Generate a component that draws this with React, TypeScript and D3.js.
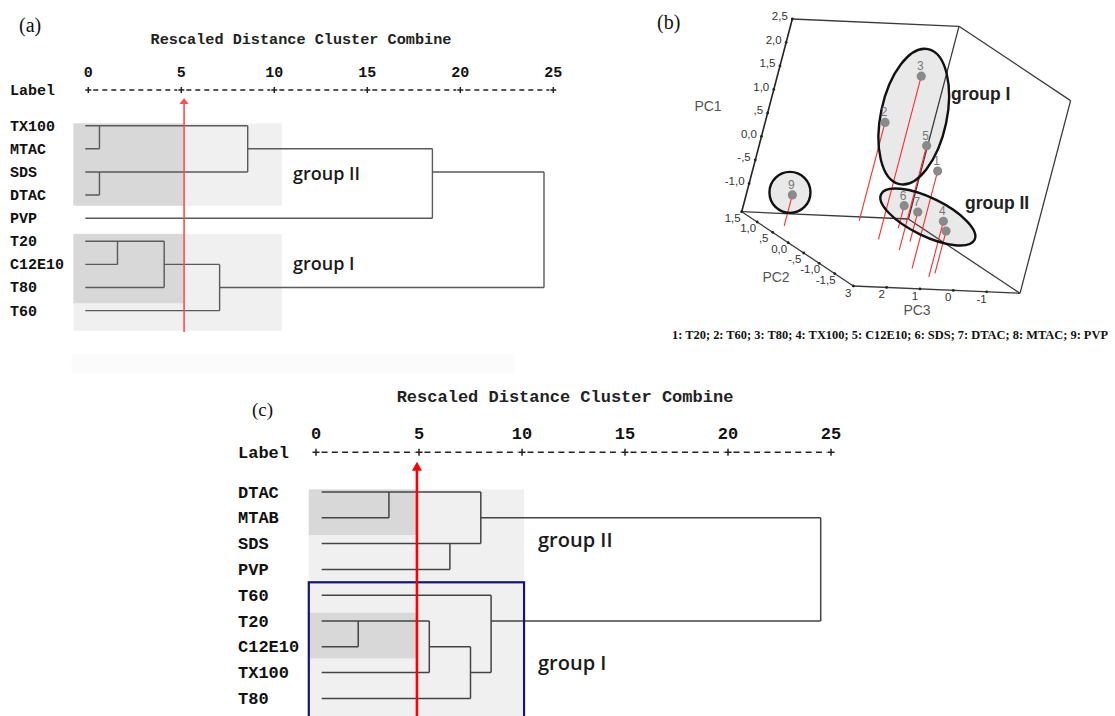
import React from 'react';
import * as d3 from 'd3';

// ---------- (a) hierarchical clustering of the surfactant set ----------
const labelsA = ['TX100', 'MTAC', 'SDS', 'DTAC', 'PVP', 'T20', 'C12E10', 'T80', 'T60'];
// agglomeration schedule: [cluster, cluster, rescaled distance]; leaves are 0..n-1, new clusters n, n+1, ...
const mergesA: [number, number, number][] = [
  [0, 1, 0.6],
  [2, 3, 0.6],
  [5, 6, 1.57],
  [11, 7, 4.08],
  [12, 8, 7.06],
  [9, 10, 8.57],
  [14, 4, 18.5],
  [15, 13, 24.5],
];
const cutA = 5.15;

// ---------- (c) second clustering ----------
const labelsC = ['DTAC', 'MTAB', 'SDS', 'PVP', 'T60', 'T20', 'C12E10', 'TX100', 'T80'];
const mergesC: [number, number, number][] = [
  [5, 6, 2.05],
  [0, 1, 3.54],
  [9, 7, 5.5],
  [2, 3, 6.5],
  [11, 8, 7.5],
  [10, 12, 8.0],
  [4, 13, 8.5],
  [14, 15, 24.5],
];
const cutC = 4.9;

const distTicks = [0, 5, 10, 15, 20, 25];

// highlighted blocks, in distance units (d) and row units (r)
type Band = { d0: number; d1: number | 'cut'; r0: number; r1: number; fill: string; stroke?: string };
const bandsA: Band[] = [
  { d0: -0.9, d1: 22.9, r0: 9.87, r1: 10.72, fill: '#fbfbfb' },
  { d0: -0.8, d1: 10.4, r0: -0.1, r1: 3.46, fill: '#f0f0f0' },
  { d0: -0.8, d1: 'cut', r0: -0.1, r1: 3.46, fill: '#d8d8d8' },
  { d0: -0.8, d1: 10.4, r0: 4.68, r1: 8.87, fill: '#f0f0f0' },
  { d0: -0.8, d1: 'cut', r0: 4.68, r1: 7.68, fill: '#d8d8d8' },
];
const bandsC: Band[] = [
  { d0: -0.35, d1: 10.1, r0: -0.1, r1: 3.5, fill: '#f0f0f0' },
  { d0: -0.35, d1: 'cut', r0: -0.1, r1: 1.67, fill: '#d8d8d8' },
  { d0: -0.35, d1: 10.1, r0: 3.5, r1: 9.6, fill: '#f0f0f0' },
  { d0: -0.35, d1: 'cut', r0: 4.68, r1: 6.45, fill: '#d8d8d8' },
];
const boxC: Band = { d0: -0.35, d1: 10.1, r0: 3.5, r1: 9.6, fill: 'none', stroke: '#14147a' };

// ---------- (b) PCA scores ----------
const pcIds = ['1', '2', '3', '4', '5', '6', '7', '8', '9'];
const pcNames = ['T20', 'T60', 'T80', 'TX100', 'C12E10', 'SDS', 'DTAC', 'MTAC', 'PVP'];
const pc1 = [0.47, 0.49, 1.87, -0.42, 0.62, -1.12, -0.97, -0.7, -0.94];
const pc2 = [-1.05, 1.3, 0.38, -1.45, -0.13, 1.0, 0.33, -1.26, 0.86];
const pc3 = [0.26, -0.34, -0.06, 0.13, -0.21, -1.23, -0.96, -0.23, 2.32];
// the number tag of point 8 sits under point 4 and is not printed
const pcTagShown = [true, true, true, true, true, true, true, false, true];
const pc1Ticks = [2.5, 2, 1.5, 1, 0.5, 0, -0.5, -1];
const pc1TickText = ['2,5', '2,0', '1,5', '1,0', ',5', '0,0', '-,5', '-1,0'];
const pc2Ticks = [1.5, 1, 0.5, 0, -0.5, -1, -1.5];
const pc2TickText = ['1,5', '1,0', ',5', '0,0', '-,5', '-1,0', '-1,5'];
const pc3Ticks = [3, 2, 1, 0, -1];
const pc3TickText = ['3', '2', '1', '0', '-1'];
const pcGroupMembers = [[0, 1, 2, 4], [3, 5, 6, 7], [8]];
const pcGroupNames = ['group I', 'group II', ''];

const MONO = "'Courier New', 'Liberation Mono', monospace";
const SERIF = "'Times New Roman', 'Liberation Serif', serif";
const SANS = "Arial, 'Liberation Sans', sans-serif";
const ROUND = "'Open Sans', sans-serif";

type DendroLayout = {
  x0: number; x1: number; rowTop: number; rowStep: number;
  axisY: number; tickTextY: number; labelX: number; font: number;
  titleX: number; titleY: number; titleFont: number;
  tag: { text: string; x: number; y: number; size: number };
  lineColor: string; lineWidth: number; leafInset: number;
  cutTop: number; cutBottom: number; cutColor: string; cutWidth: number;
  arrowW: number; arrowH: number; dash: string; plus: number;
  groupFont: number; groups: { text: string; x: number; y: number }[];
};

function DendroPanel({ labels, merges, cut, bands, box, L }: {
  labels: string[]; merges: [number, number, number][]; cut: number; bands: Band[]; box?: Band; L: DendroLayout;
}) {
  const x = d3.scaleLinear().domain([0, 25]).range([L.x0, L.x1]);
  const y = d3.scaleLinear().domain([0, 1]).range([L.rowTop, L.rowTop + L.rowStep]);
  const n = labels.length;
  const row: number[] = d3.range(n);
  const h: number[] = Array(n).fill(0);
  const parent: number[] = [];
  merges.forEach(([a, b, d], k) => {
    const id = n + k;
    row[id] = Math.floor((row[a] + row[b]) / 2);
    h[id] = d;
    parent[a] = id;
    parent[b] = id;
  });
  const p = d3.path();
  for (let id = 0; id < n + merges.length; id++) {
    const par = parent[id];
    if (par === undefined) continue;
    const xs = id < n ? x(0) + L.leafInset : x(h[id]);
    p.moveTo(xs, y(row[id]));
    p.lineTo(x(h[par]), y(row[id]));
  }
  merges.forEach(([a, b, d]) => {
    p.moveTo(x(d), y(row[a]));
    p.lineTo(x(d), y(row[b]));
  });
  const bandRect = (b: Band, i: number) => {
    const d1 = b.d1 === 'cut' ? cut : b.d1;
    return (
      <rect key={i} x={x(b.d0)} y={y(b.r0)} width={x(d1) - x(b.d0)} height={y(b.r1) - y(b.r0)}
        fill={b.fill} stroke={b.stroke ?? 'none'} strokeWidth={b.stroke ? 2.2 : 0} />
    );
  };
  const cx = x(cut);
  return (
    <g>
      <text x={L.tag.x} y={L.tag.y} fontFamily={SERIF} fontSize={L.tag.size} fill="#111">{L.tag.text}</text>
      <text x={L.titleX} y={L.titleY} fontFamily={MONO} fontWeight="bold" fontSize={L.titleFont}
        textAnchor="middle" fill="#222">Rescaled Distance Cluster Combine</text>
      {bands.map(bandRect)}
      {/* distance axis */}
      <text x={L.labelX} y={L.axisY + L.font * 0.33} fontFamily={MONO} fontWeight="bold" fontSize={L.font} fill="#111">Label</text>
      {distTicks.map((t) => (
        <g key={t}>
          <text x={x(t)} y={L.tickTextY} fontFamily={MONO} fontWeight="bold" fontSize={L.font}
            textAnchor="middle" fill="#111">{t}</text>
          <path d={`M${x(t) - L.plus},${L.axisY}H${x(t) + L.plus}M${x(t)},${L.axisY - L.plus}V${L.axisY + L.plus}`}
            stroke="#222" strokeWidth={1.5} />
        </g>
      ))}
      {d3.pairs(distTicks).map(([a, b]) => (
        <line key={a} x1={x(a) + L.plus + 2} x2={x(b) - L.plus - 1} y1={L.axisY} y2={L.axisY}
          stroke="#222" strokeWidth={1.4} strokeDasharray={L.dash} />
      ))}
      {/* case labels */}
      {labels.map((lab, i) => (
        <text key={lab} x={L.labelX} y={y(i) + L.font * 0.33} fontFamily={MONO} fontWeight="bold"
          fontSize={L.font} fill="#111">{lab}</text>
      ))}
      <path d={p.toString()} fill="none" stroke={L.lineColor} strokeWidth={L.lineWidth} />
      {box && bandRect(box, 99)}
      {L.groups.map((g) => (
        <text key={g.text} x={g.x} y={g.y} fontFamily={ROUND} fontWeight={600} fontSize={L.groupFont} fill="#1a1a1a">{g.text}</text>
      ))}
      {/* cut level */}
      <line x1={cx} x2={cx} y1={L.cutTop + L.arrowH - 1} y2={L.cutBottom} stroke={L.cutColor} strokeWidth={L.cutWidth} />
      <path d={`M${cx},${L.cutTop}L${cx - L.arrowW / 2},${L.cutTop + L.arrowH}L${cx + L.arrowW / 2},${L.cutTop + L.arrowH}Z`}
        fill={L.cutColor} />
    </g>
  );
}

function PcaPanel() {
  // parallelepiped frame: origin corner and the three edge vectors
  const O = [741.7, 211.7];
  const E1 = [50.6, -192.7];
  const E2 = [111.6, 74.3];
  const E3 = [166.7, 7.3];
  const f1 = d3.scaleLinear().domain([-1.6, 2.5]).range([0, 1]);
  const f2 = d3.scaleLinear().domain([1.5, -2.1]).range([0, 1]);
  const f3 = d3.scaleLinear().domain([3, -2]).range([0, 1]);
  const at = (a: number, b: number, c: number) => [
    O[0] + a * E1[0] + b * E2[0] + c * E3[0],
    O[1] + a * E1[1] + b * E2[1] + c * E3[1],
  ];
  const proj = (p1: number, p2: number, p3: number) => at(f1(p1), f2(p2), f3(p3));
  const edges: [number[], number[]][] = [
    [[1, 0, 0], [1, 0, 1]],
    [[1, 0, 1], [1, 1, 1]],
    [[1, 0, 1], [0, 0, 1]],
    [[0, 0, 0], [0, 0, 1]],
    [[0, 0, 1], [0, 1, 1]],
    [[1, 1, 1], [0, 1, 1]],
    [[0, 0, 0], [0, 1, 0]],
    [[0, 1, 0], [0, 1, 1]],
  ];
  const pts = pcIds.map((_, i) => proj(pc1[i], pc2[i], pc3[i]));
  const floor = pcIds.map((_, i) => proj(f1.domain()[0], pc2[i], pc3[i]));
  const ell = [
    { rx: 33, ry: 69, rot: 12, dx: -3.9, dy: -12.2 },
    { rx: 52, ry: 19, rot: 26, dx: 0, dy: -0.5 },
    { rx: 20.5, ry: 20.5, rot: 0, dx: -2.4, dy: -2.5 },
  ].map((e, g) => {
    const m = pcGroupMembers[g];
    return { ...e, cx: d3.mean(m, (i) => pts[i][0])! + e.dx, cy: d3.mean(m, (i) => pts[i][1])! + e.dy };
  });
  const groupLabelPos = [[951, 100], [965, 209]];
  const caption = pcIds.map((id, i) => `${id}: ${pcNames[i]}`).join('; ');
  const A0 = at(0, 0, 0);
  const A1 = at(1, 0, 0);
  return (
    <g>
      <text x={657} y={29} fontFamily={SERIF} fontSize={20} fill="#111">(b)</text>
      {ell.map((e, i) => (
        <ellipse key={'f' + i} cx={e.cx} cy={e.cy} rx={e.rx} ry={e.ry}
          transform={`rotate(${e.rot},${e.cx},${e.cy})`} fill="#e9e9e9" />
      ))}
      {edges.map(([a, b], i) => {
        const p = at(a[0], a[1], a[2]);
        const q = at(b[0], b[1], b[2]);
        return <line key={i} x1={p[0]} y1={p[1]} x2={q[0]} y2={q[1]} stroke="#3a3a3a" strokeWidth={1.3} />;
      })}
      <line x1={A0[0]} y1={A0[1]} x2={A1[0]} y2={A1[1]} stroke="#222" strokeWidth={1.6} />
      {/* axis ticks */}
      {pc1Ticks.map((t, i) => {
        const [px, py] = proj(t, 1.5, 3);
        return (
          <g key={'a' + t}>
            <circle cx={px} cy={py} r={1.4} fill="#222" />
            <text x={px - 4.5} y={py + 1} textAnchor="end" fontFamily={SANS} fontSize={11.5} fill="#333">{pc1TickText[i]}</text>
          </g>
        );
      })}
      {pc2Ticks.map((t, i) => {
        const [px, py] = proj(-1.6, t, 3);
        return (
          <g key={'b' + t}>
            <circle cx={px} cy={py} r={1.4} fill="#222" />
            <text x={px - 9} y={py + 10} textAnchor="middle" fontFamily={SANS} fontSize={11.5} fill="#333">{pc2TickText[i]}</text>
          </g>
        );
      })}
      {pc3Ticks.map((t, i) => {
        const [px, py] = proj(-1.6, -2.1, t);
        return (
          <g key={'c' + t}>
            <circle cx={px} cy={py} r={1.4} fill="#222" />
            <text x={px - 5} y={py + 11} textAnchor="middle" fontFamily={SANS} fontSize={11.5} fill="#333">{pc3TickText[i]}</text>
          </g>
        );
      })}
      <text x={708} y={111} textAnchor="middle" fontFamily={SANS} fontSize={14} fill="#555">PC1</text>
      <text x={776} y={282} textAnchor="middle" fontFamily={SANS} fontSize={14} fill="#555">PC2</text>
      <text x={917} y={315} textAnchor="middle" fontFamily={SANS} fontSize={14} fill="#555">PC3</text>
      {/* drop lines to the PC2–PC3 floor */}
      {pts.map((p, i) => (
        <line key={'r' + i} x1={p[0]} y1={p[1]} x2={floor[i][0]} y2={floor[i][1]} stroke="#ff2b2b" strokeWidth={1.1} />
      ))}
      {ell.map((e, i) => (
        <ellipse key={'s' + i} cx={e.cx} cy={e.cy} rx={e.rx} ry={e.ry}
          transform={`rotate(${e.rot},${e.cx},${e.cy})`} fill="none" stroke="#111" strokeWidth={2.4} />
      ))}
      {pts.map((p, i) => pcTagShown[i] && (
        <text key={'t' + i} x={p[0] - 1} y={p[1] - 6} textAnchor="middle" fontFamily={SANS} fontSize={12} fill="#777">{pcIds[i]}</text>
      ))}
      {pts.map((p, i) => (
        <circle key={'p' + i} cx={p[0]} cy={p[1]} r={4.6} fill="#8a8a8a" />
      ))}
      {pcGroupNames.map((g, i) => g && (
        <text key={g} x={groupLabelPos[i][0]} y={groupLabelPos[i][1]} fontFamily={SANS} fontWeight="bold"
          fontSize={17.5} fill="#222">{g}</text>
      ))}
      <text x={672} y={338.5} fontFamily={SERIF} fontWeight="bold" fontSize={11.6} fill="#111"
        textLength={436} lengthAdjust="spacingAndGlyphs">{caption}</text>
    </g>
  );
}

const layoutA: DendroLayout = {
  x0: 88.3, x1: 553.3, rowTop: 125.7, rowStep: 23.12,
  axisY: 90, tickTextY: 77, labelX: 10, font: 15,
  titleX: 301, titleY: 43.5, titleFont: 15.2,
  tag: { text: '(a)', x: 19, y: 32, size: 20 },
  lineColor: '#5a5a5a', lineWidth: 1.4, leafInset: -3,
  cutTop: 98, cutBottom: 332, cutColor: '#ff4d4d', cutWidth: 1.6,
  arrowW: 9, arrowH: 6, dash: '5,4', plus: 3,
  groupFont: 18, groups: [{ text: 'group II', x: 293, y: 180 }, { text: 'group I', x: 293, y: 270 }],
};

const layoutC: DendroLayout = {
  x0: 316, x1: 831, rowTop: 492, rowStep: 25.8,
  axisY: 452.3, tickTextY: 438.5, labelX: 238, font: 17,
  titleX: 565, titleY: 402, titleFont: 17,
  tag: { text: '(c)', x: 252, y: 416, size: 19 },
  lineColor: '#444', lineWidth: 1.5, leafInset: 5.7,
  cutTop: 461.7, cutBottom: 716, cutColor: '#ff0000', cutWidth: 2.6,
  arrowW: 10, arrowH: 9, dash: '6,4.3', plus: 3.5,
  groupFont: 20, groups: [{ text: 'group II', x: 538, y: 547 }, { text: 'group I', x: 538, y: 670 }],
};

export default function App() {
  return (
    <svg width={1115} height={716} style={{ position: 'absolute', left: 0, top: 0, background: '#fff' }}>
      <rect width={1115} height={716} fill="#fff" />
      <DendroPanel labels={labelsA} merges={mergesA} cut={cutA} bands={bandsA} L={layoutA} />
      <PcaPanel />
      <DendroPanel labels={labelsC} merges={mergesC} cut={cutC} bands={bandsC} box={boxC} L={layoutC} />
    </svg>
  );
}
